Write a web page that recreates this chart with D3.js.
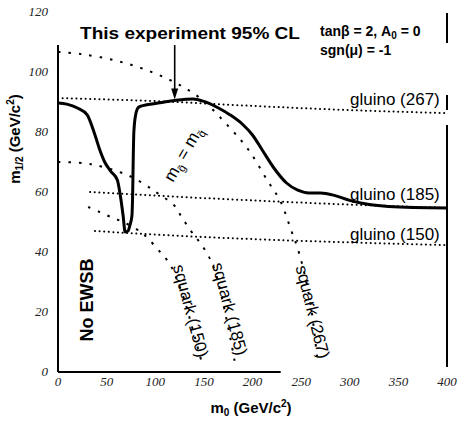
<!DOCTYPE html>
<html>
<head>
<meta charset="utf-8">
<script src="https://cdn.jsdelivr.net/npm/d3@7"></script>
<style>
  body { margin: 0; background: #fff; }
  svg { display: block; }
  .tick-label { font-family: "Liberation Serif", serif; font-style: italic; font-size: 13px; fill: #222; }
  .bold { font-family: "Liberation Sans", Arial, sans-serif; font-weight: bold; fill: #000; }
  .lbl { font-family: "Liberation Sans", Arial, sans-serif; font-size: 17px; fill: #000; }
</style>
</head>
<body>
<svg width="462" height="425"></svg>
<script>
// tick labels
var xTicks = [0, 50, 100, 150, 200, 250, 300, 350, 400];
var yTicks = [0, 20, 40, 60, 80, 100, 120];

// 95% CL exclusion curve [m0, m1/2]
var clCurve = [[0, 89.7], [9, 89.3], [20, 88], [30, 85.7], [37, 80], [43, 74], [48, 70], [54, 67],
  [61, 64], [64, 59], [67, 52], [69, 46.7], [72, 47], [74, 49], [76, 52], [76.8, 60], [77.3, 70],
  [78, 80], [80, 86], [83, 88.3], [90, 89], [100, 89.5], [120, 90.5], [139, 91], [150, 90.2],
  [165, 88], [177, 85.7], [190, 82.5], [200, 79], [210, 74], [222, 68], [235, 63], [246, 60.7],
  [258, 59.7], [270, 59.7], [285, 58.8], [300, 57.2], [320, 55.8], [340, 55.2], [400, 54.7]];

// gluino iso-mass lines
var gluino267 = [[0, 91.3], [100, 90.3], [200, 88.7], [300, 87.3], [400, 86.3]];
var gluino185 = [[33, 60], [100, 58.8], [200, 57.2], [300, 55.8], [400, 54.7]];
var gluino150 = [[38, 47], [100, 45.8], [200, 44.3], [300, 43.2], [400, 42.3]];

// squark iso-mass curves
var squark267 = [[0, 106.7], [23, 106], [57, 104], [88, 101], [119, 96.7], [146, 91.3], [177, 81.3],
  [196, 74], [215, 64], [229, 56.7], [240, 47], [246, 41.7], [254, 32], [260, 22], [264, 12], [267, 3]];
var squark185 = [[0, 70], [33, 69.3], [71, 65.7], [95, 61.3], [102, 59.7], [119, 55.7], [126, 52.3],
  [136, 47.3], [145, 43.5], [153, 39.7], [160, 35], [167, 27], [173, 18], [178, 10], [182, 3]];
var squark150 = [[31, 55], [43, 53.3], [57, 51.3], [69, 49.7], [85, 46.7], [92, 44.7], [105, 40],
  [115, 36], [122, 31], [130, 24], [137, 16], [143, 9], [148, 3]];

var svg = d3.select("svg");

var x = d3.scaleLinear().domain([0, 400]).range([58, 447]),
    y = d3.scaleLinear().domain([0, 120]).range([372, 12]);

var line = d3.line()
  .x(function(d) { return x(d[0]); })
  .y(function(d) { return y(d[1]); })
  .curve(d3.curveMonotoneX);

// frame lines (scanned figure only shows part of them)
svg.append("line").attr("x1", x(0)).attr("x2", x(0)).attr("y1", y(109)).attr("y2", y(0))
  .attr("stroke", "#000").attr("stroke-width", 2);
svg.append("line").attr("x1", x(0)).attr("x2", x(229)).attr("y1", y(0)).attr("y2", y(0))
  .attr("stroke", "#000").attr("stroke-width", 2);
[[13, 43], [95, 110], [125, 367]].forEach(function(s) {
  svg.append("line").attr("x1", x(400)).attr("x2", x(400)).attr("y1", s[0]).attr("y2", s[1])
    .attr("stroke", "#000").attr("stroke-width", 2);
});

// tick labels
svg.selectAll(".xt").data(xTicks).enter().append("text")
  .attr("class", "tick-label")
  .attr("x", function(d) { return x(d); })
  .attr("y", 386)
  .attr("text-anchor", "middle")
  .text(function(d) { return d; });

svg.selectAll(".yt").data(yTicks).enter().append("text")
  .attr("class", "tick-label")
  .attr("x", 48)
  .attr("y", function(d) { return y(d) + 4; })
  .attr("text-anchor", "end")
  .text(function(d) { return d; });

// gluino lines (dotted)
[gluino267, gluino185, gluino150].forEach(function(g) {
  svg.append("path").datum(g)
    .attr("d", line)
    .attr("fill", "none")
    .attr("stroke", "#000")
    .attr("stroke-width", 2)
    .attr("stroke-linecap", "round")
    .attr("stroke-dasharray", "0.1,4.5");
});

// squark curves (sparse dashes)
[squark267, squark185, squark150].forEach(function(s) {
  svg.append("path").datum(s)
    .attr("d", d3.line().x(function(d) { return x(d[0]); }).y(function(d) { return y(d[1]); })
      .curve(d3.curveCatmullRom))
    .attr("fill", "none")
    .attr("stroke", "#000")
    .attr("stroke-width", 2)
    .attr("stroke-dasharray", "2.5,8");
});

// exclusion curve
svg.append("path").datum(clCurve)
  .attr("d", line)
  .attr("fill", "none")
  .attr("stroke", "#000")
  .attr("stroke-width", 3)
  .attr("stroke-linejoin", "round");

// arrow
svg.append("line").attr("x1", x(120)).attr("x2", x(120)).attr("y1", y(109)).attr("y2", y(93))
  .attr("stroke", "#000").attr("stroke-width", 1.6);
svg.append("path")
  .attr("d", "M" + (x(120) - 3.5) + "," + y(94.5) + "L" + (x(120) + 3.5) + "," + y(94.5) + "L" + x(120) + "," + y(90.8) + "Z")
  .attr("fill", "#000");

// title + parameters
svg.append("text").attr("class", "bold")
  .attr("x", 80).attr("y", 39)
  .attr("font-size", 17)
  .attr("textLength", 220).attr("lengthAdjust", "spacingAndGlyphs")
  .text("This experiment 95% CL");

var p1 = svg.append("text").attr("class", "bold").attr("x", 320).attr("y", 36).attr("font-size", 14);
p1.append("tspan").text("tanβ = 2, A");
p1.append("tspan").attr("font-size", 10).attr("dy", 3).text("0");
p1.append("tspan").attr("dy", -3).text(" = 0");

svg.append("text").attr("class", "bold").attr("x", 320).attr("y", 55).attr("font-size", 14)
  .text("sgn(μ) =  -1");

// gluino labels
[["gluino (267)", 105], ["gluino (185)", 200], ["gluino (150)", 240]].forEach(function(g) {
  svg.append("text").attr("class", "lbl").attr("x", 350).attr("y", g[1]).text(g[0]);
});

// squark labels
[["squark (150)", 190, 311, 75], ["squark (185)", 229, 309, 75], ["squark (267)", 312, 312, 76]].forEach(function(s) {
  svg.append("text").attr("class", "lbl")
    .attr("font-size", 16)
    .attr("text-anchor", "middle")
    .attr("transform", "translate(" + s[1] + "," + s[2] + ") rotate(" + s[3] + ")")
    .attr("dy", 5)
    .text(s[0]);
});

// m_gluino = m_squark
var eq = svg.append("text").attr("class", "lbl")
  .attr("font-size", 15)
  .attr("text-anchor", "middle")
  .attr("transform", "translate(188,157) rotate(-60)");
eq.append("tspan").text("m");
eq.append("tspan").attr("font-size", 11).attr("dy", 4).text("g̃");
eq.append("tspan").attr("dy", -4).text(" = m");
eq.append("tspan").attr("font-size", 11).attr("dy", 4).text("q̃");

// No EWSB
svg.append("text").attr("class", "bold")
  .attr("font-size", 18)
  .attr("text-anchor", "middle")
  .attr("transform", "translate(93,300) rotate(-90)")
  .text("No EWSB");

// axis titles
var yt = svg.append("text").attr("class", "bold")
  .attr("font-size", 15)
  .attr("text-anchor", "middle")
  .attr("transform", "translate(20,139) rotate(-90)");
yt.append("tspan").text("m");
yt.append("tspan").attr("font-size", 10).attr("dy", 3).text("1/2");
yt.append("tspan").attr("dy", -3).text(" (GeV/c");
yt.append("tspan").attr("font-size", 10).attr("dy", -6).text("2");
yt.append("tspan").attr("dy", 6).text(")");

var xt = svg.append("text").attr("class", "bold")
  .attr("font-size", 15)
  .attr("text-anchor", "middle")
  .attr("x", 251).attr("y", 413);
xt.append("tspan").text("m");
xt.append("tspan").attr("font-size", 10).attr("dy", 3).text("0");
xt.append("tspan").attr("dy", -3).text(" (GeV/c");
xt.append("tspan").attr("font-size", 10).attr("dy", -6).text("2");
xt.append("tspan").attr("dy", 6).text(")");
</script>
</body>
</html>
